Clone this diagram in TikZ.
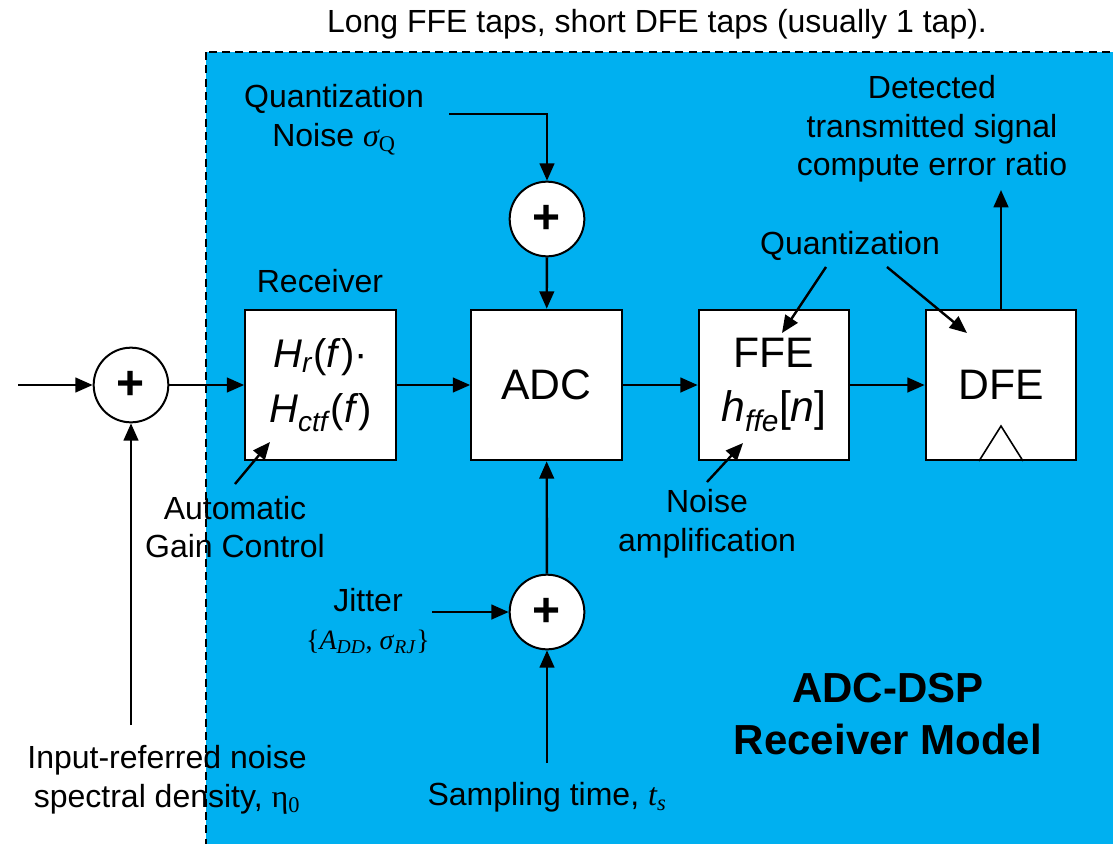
\documentclass[tikz,border=0pt]{standalone}
\usepackage{fontspec}
\setmainfont{Liberation Sans}
\newfontfamily\tnr{Liberation Serif}
\usetikzlibrary{arrows.meta}
\definecolor{rxblue}{RGB}{0,176,240}

\begin{document}
\begin{tikzpicture}[x=0.75pt,y=0.75pt,yscale=-1,
  font=\fontsize{24}{29}\selectfont,
  blk/.style={draw,line width=1.5pt,fill=white,minimum width=113pt,minimum height=113pt,inner sep=0pt,align=center,font=\fontsize{32}{41}\selectfont},
  sum/.style={circle,draw,line width=1.5pt,fill=white,minimum size=56pt,inner sep=0pt,font=\fontsize{36}{36}\selectfont\bfseries},
  lbl/.style={align=center,inner sep=0pt},
  sig/.style={-{Triangle[length=13pt,width=11pt]},line width=1.8pt}]

\clip (0,0) rectangle (1113,843);
% receiver model area
\draw[fill=rxblue,line width=1.4pt,dash pattern=on 6pt off 4pt] (206,52) rectangle (1140,870);

\node[lbl] (top) at (657,24) {Long FFE taps, short DFE taps (usually 1 tap).};

% blocks
\node[sum] (s1) at (131,385) {+};
\node[blk,font=\fontsize{30}{41}\selectfont] (rx) at (320.5,385) {\textit{H}\textsubscript{\textit{r}}(\textit{f})·\\\textit{H}\textsubscript{\textit{ctf}}(\textit{f})};
\node[blk] (adc) at (546.5,385) {ADC};
\node[blk] (ffe) at (774,385) {FFE\\\textit{h}\textsubscript{\textit{ffe}}[\textit{n}]};
\node[blk] (dfe) at (1001,385) {DFE};
\draw[line width=1.2pt] (979,461) -- (1001,426) -- (1023,461);
\node[sum] (s2) at (547,219) {+};
\node[sum] (s3) at (547,612) {+};

% labels
\node[lbl] (rxl) at (320,281) {Receiver};
\node[lbl] (qn) at (334,120) {Quantization\\Noise {\tnr\itshape σ}\textsubscript{\tnr Q}};
\node[lbl] (jit) at (368,621) {Jitter\\{\tnr\fontsize{21}{29}\selectfont\{\textit{A}\textsubscript{\textit{DD}}, \textit{σ}\textsubscript{\textit{RJ}}\}}};
\node[lbl] (ts) at (547,797) {Sampling time, {\tnr\itshape t}\textsubscript{\tnr\itshape s}};
\node[lbl] (agc) at (235,527) {Automatic\\Gain Control};
\node[lbl] (namp) at (707,524) {Noise\\amplification};
\node[lbl] (quant) at (850,246) {Quantization};
\node[lbl] (det) at (932,129) {Detected\\transmitted signal\\compute error ratio};
\node[lbl] (eta) at (167,780) {Input-referred noise\\spectral density, {\tnr η}\textsubscript{\tnr 0}};
\node[lbl,font=\fontsize{31.5}{39}\selectfont\bfseries] (model) at (888,714) {ADC-DSP\\Receiver Model};

% free ends of the arrows
\coordinate (in) at (18,385);
\coordinate (qnend) at (449,114);
\coordinate (jitend) at (432,612);
\coordinate (tsend) at (547,763);
\coordinate (etaend) at (131,725);
\coordinate (agcend) at (235,484);
\coordinate (agctip) at (270,442);
\coordinate (nampend) at (707,482);
\coordinate (namptip) at (743,443);
\coordinate (qa) at (826,267);
\coordinate (qatip) at (782,333);
\coordinate (qb) at (887,267);
\coordinate (qbtip) at (967,333);
\coordinate (detend) at (1001,190);

% signal path
\draw[sig] (in) -- (s1);
\draw[sig] (s1) -- (rx);
\draw[sig] (rx) -- (adc);
\draw[sig] (adc) -- (ffe);
\draw[sig] (ffe) -- (dfe);
\draw[sig] (dfe) -- (detend);
\draw[sig] (etaend) -- (s1);
\draw[sig] (qnend) -| (s2);
\draw[sig] (s2) -- (adc);
\draw[sig] (s3) -- (adc);
\draw[sig] (jitend) -- (s3);
\draw[sig] (tsend) -- (s3);

% annotations
\draw[sig] (agcend) -- (agctip);
\draw[sig] (nampend) -- (namptip);
\draw[sig] (qa) -- (qatip);
\draw[sig] (qb) -- (qbtip);
\end{tikzpicture}
\end{document}
